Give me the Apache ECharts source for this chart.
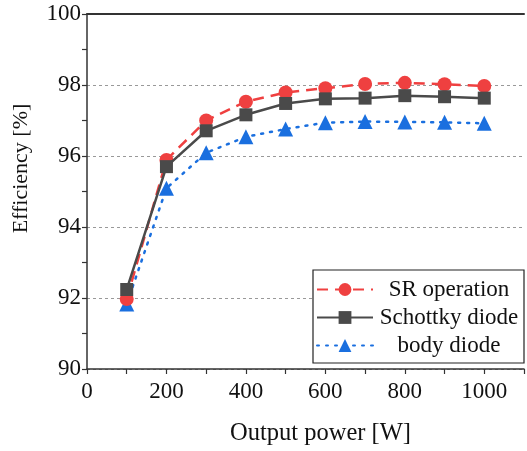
<!DOCTYPE html>
<html><head><meta charset="utf-8">
<script src="https://cdn.jsdelivr.net/npm/echarts@6/dist/echarts.min.js"></script>
<style>html,body{margin:0;padding:0;background:#fff}#c{width:527px;height:451px}</style>
</head><body><div id="c"></div>
<script>
const power = [100, 200, 300, 400, 500, 600, 700, 800, 900, 1000];
const srOperation = [91.97, 95.89, 97.00, 97.53, 97.79, 97.91, 98.03, 98.06, 98.02, 97.97];
const schottkyDiode = [92.24, 95.70, 96.71, 97.16, 97.48, 97.61, 97.63, 97.70, 97.67, 97.63];
const bodyDiode = [91.83, 95.09, 96.09, 96.54, 96.76, 96.94, 96.97, 96.96, 96.95, 96.92];
const xTicks = [0, 200, 400, 600, 800, 1000];
const yTicks = [90, 92, 94, 96, 98, 100];

const font = 'Liberation Serif, Times New Roman, serif';
const pair = (ys) => power.map((x, i) => [x, ys[i]]);
const chart = echarts.init(document.getElementById('c'));
chart.setOption({
  animation: false,
  grid: { left: 87, top: 14, width: 443, height: 355, containLabel: false },
  legend: {
    right: 3, top: 270, orient: 'vertical',
    itemWidth: 56, itemHeight: 16, itemGap: 5,
    padding: [8, 4, 6, 3],
    borderColor: '#222', borderWidth: 1.2, backgroundColor: '#fff',
    formatter: (n) => '{t|' + n + '}',
    textStyle: { rich: { t: { fontFamily: font, fontSize: 23, lineHeight: 24, color: '#111', width: 142, align: 'center' } } },
    data: ['SR operation', 'Schottky diode', 'body diode']
  },
  xAxis: [{
    type: 'value', min: 0, max: 1100, interval: 200,
    name: 'Output power [W]', nameLocation: 'middle', nameGap: 52,
    nameTextStyle: { fontFamily: font, fontSize: 24.5, color: '#111', padding: [0, 0, 0, 30] },
    axisLine: { lineStyle: { color: '#333', width: 1.5 } },
    axisTick: { show: true, length: 5, lineStyle: { color: '#333', width: 1.2 } },
    minorTick: { show: true, splitNumber: 2, length: 5, lineStyle: { color: '#333', width: 1.2 } },
    axisLabel: { fontFamily: font, fontSize: 23, color: '#111', margin: 11,
      formatter: (v) => xTicks.includes(v) ? String(v) : '' },
    splitLine: { show: false }
  }, {
    type: 'value', position: 'top', min: 0, max: 1100,
    axisLine: { show: true, lineStyle: { color: '#333', width: 2 } },
    axisTick: { show: false }, axisLabel: { show: false }, splitLine: { show: false }
  }],
  yAxis: {
    type: 'value', min: 90, max: 100, interval: 2,
    name: 'Efficiency [%]', nameLocation: 'middle', nameGap: 55,
    nameTextStyle: { fontFamily: font, fontSize: 22, color: '#111', padding: [0, 0, 0, 46] },
    axisLine: { show: true, lineStyle: { color: '#333', width: 1.5 } },
    axisTick: { show: true, length: 5, lineStyle: { color: '#333', width: 1.2 } },
    minorTick: { show: true, splitNumber: 2, length: 5, lineStyle: { color: '#333', width: 1.2 } },
    axisLabel: { fontFamily: font, fontSize: 23, color: '#111', margin: 6,
      formatter: (v) => yTicks.includes(v) ? String(v) : '' },
    splitLine: { show: true, lineStyle: { color: '#999', type: [3, 3], width: 1 } }
  },
  series: [{
    name: 'SR operation', type: 'line', data: pair(srOperation),
    symbol: 'circle', symbolSize: 14, z: 3,
    lineStyle: { color: '#EF4040', width: 2.5, type: [11, 7] },
    itemStyle: { color: '#EF4040' }
  }, {
    name: 'Schottky diode', type: 'line', data: pair(schottkyDiode),
    symbol: 'rect', symbolSize: 13, z: 4,
    lineStyle: { color: '#4A4A4A', width: 2.5 },
    itemStyle: { color: '#4A4A4A' }
  }, {
    name: 'body diode', type: 'line', data: pair(bodyDiode),
    symbol: 'triangle', symbolSize: 15, z: 2,
    lineStyle: { color: '#1A6FDF', width: 2.5, type: [2, 7], cap: 'round' },
    itemStyle: { color: '#1A6FDF' }
  }]
});
</script></body></html>
